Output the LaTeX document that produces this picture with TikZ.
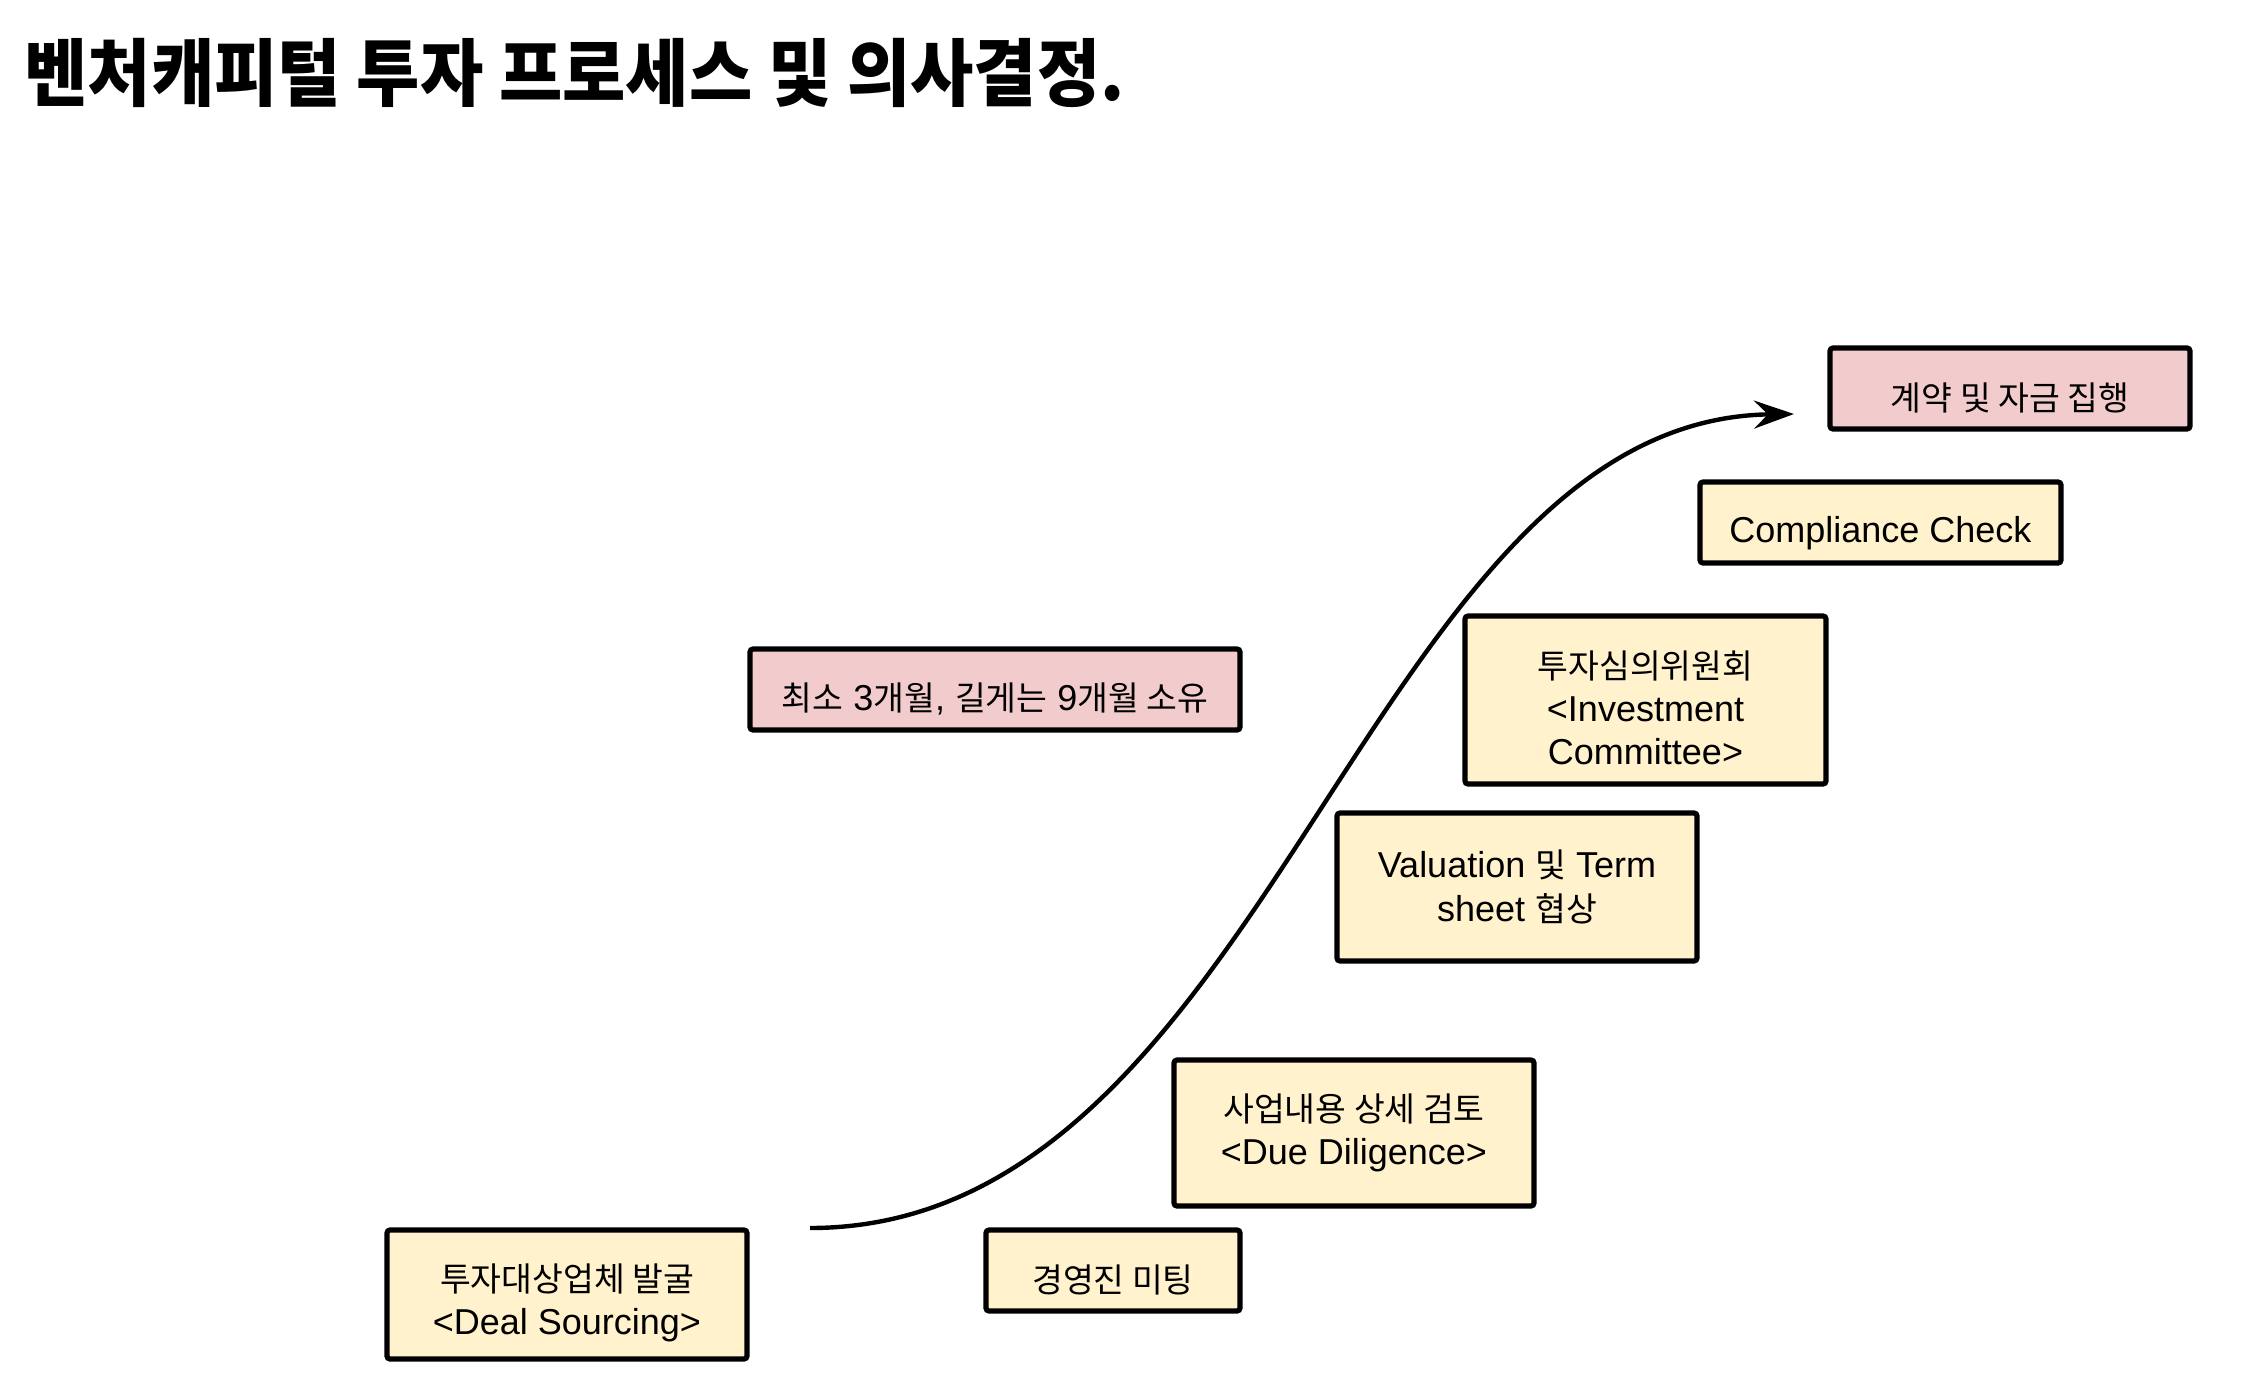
\documentclass[tikz,border=0pt]{standalone}
\usepackage{fontspec}
\setmainfont{Liberation Sans}
\newfontfamily\kr[Scale=0.93]{Noto Sans CJK KR}
\usetikzlibrary{arrows.meta}
\definecolor{vcyellow}{RGB}{255,242,204}
\definecolor{vcpink}{RGB}{242,204,205}

\begin{document}
\begin{tikzpicture}[x=0.5pt, y=-0.5pt,
      textdrop/.style={execute at begin node={\rule{0pt}{#1}}},
      stage/.style={draw=black, fill=vcyellow, line width=2.6pt, rounded corners=1.5pt, align=center, inner sep=0pt, font=\fontsize{18}{21.6}\selectfont, textdrop=23.5pt},
      note/.style={stage, fill=vcpink},
      flow/.style={line width=2.2pt, -{Stealth[length=20pt, width=14pt, inset=7pt]}}
    ]
      \useasboundingbox (0,0) rectangle (2260,1388);

      % Title
      \node[anchor=west, inner sep=0pt, font=\fontsize{37}{44}\selectfont\kr\bfseries] (title) at (24,73) {\scalebox{1}[1.07]{벤처캐피털 투자 프로세스 및 의사결정.}};

      % Process steps
      \node[stage, textdrop=43.5pt, minimum width=180pt, minimum height=64.5pt] (deal) at (567,1294.5) {{\kr 투자대상업체 발굴}\\<Deal Sourcing>};
      \node[stage, minimum width=127pt, minimum height=40.5pt] (meet) at (1113,1270.5) {\kr 경영진 미팅};
      \node[stage, minimum width=180pt, minimum height=73pt] (dd) at (1354,1133) {{\kr 사업내용 상세 검토}\\<Due Diligence>};
      \node[stage, minimum width=180pt, minimum height=74pt] (val) at (1517,887) {Valuation {\kr 및} Term\\sheet {\kr 협상}};
      \node[stage, textdrop=65pt, minimum width=180.5pt, minimum height=84pt] (ic) at (1645.5,700) {{\kr 투자심의위원회}\\<Investment\\Committee>};
      \node[stage, minimum width=180.5pt, minimum height=40.5pt] (comp) at (1880.5,522.5) {Compliance Check};
      \node[note, minimum width=180pt, minimum height=40.5pt] (exec) at (2010,388.5) {\kr 계약 및 자금 집행};

      % Duration note
      \node[note, minimum width=245pt, minimum height=40.5pt] (dur) at (995,689.5) {{\kr 최소} 3{\kr 개월}, {\kr 길게는} 9{\kr 개월 소유}};

      % S-curve
      \coordinate (crvS) at (810,1228);
      \coordinate (crvE) at (1794,414);
      \draw[flow] (crvS) .. controls (1271,1228) and (1366,420) .. (crvE);
    \end{tikzpicture}
\end{document}
